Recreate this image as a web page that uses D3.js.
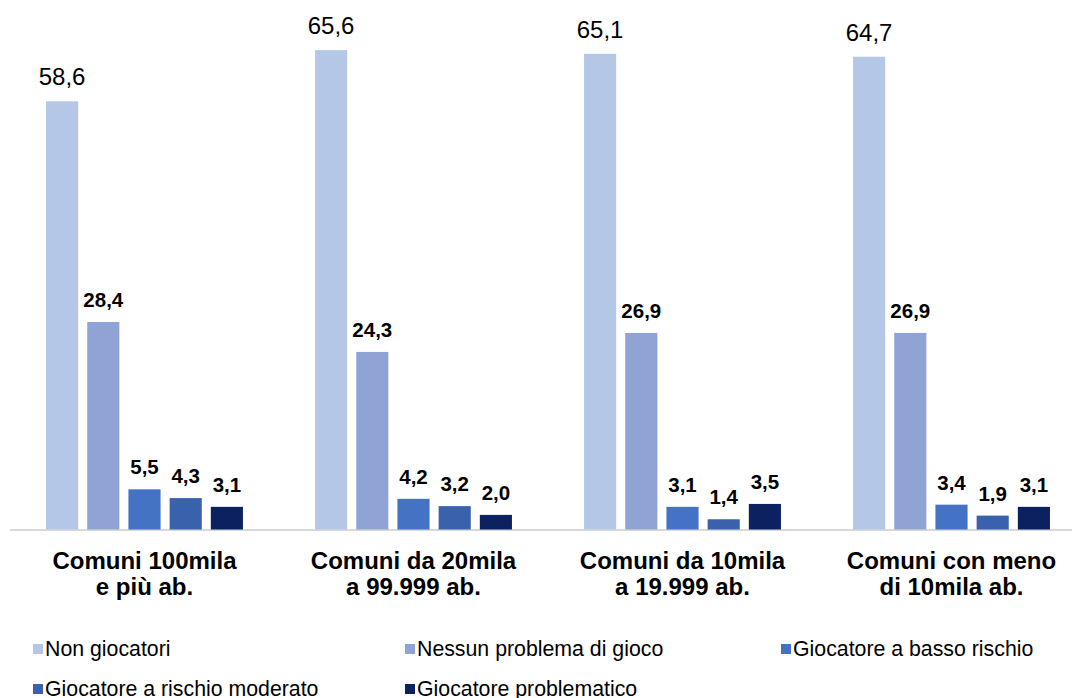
<!DOCTYPE html>
<html>
<head>
<meta charset="utf-8">
<script src="https://cdn.jsdelivr.net/npm/d3@7"></script>
<style>
  html, body { margin: 0; padding: 0; background: #fff; }
  svg { display: block; font-family: "Liberation Sans", Arial, sans-serif; }
</style>
</head>
<body>
<svg id="chart" width="1072" height="698"></svg>
<script>
// Municipality size classes (two-line labels)
const categories = [
  ["Comuni 100mila", "e più ab."],
  ["Comuni da 20mila", "a 99.999 ab."],
  ["Comuni da 10mila", "a 19.999 ab."],
  ["Comuni con meno", "di 10mila ab."]
];
const seriesNames = [
  "Non giocatori",
  "Nessun problema di gioco",
  "Giocatore a basso rischio",
  "Giocatore a rischio moderato",
  "Giocatore problematico"
];
// Percentages per series, one value per municipality class
const nonGiocatori = [58.6, 65.6, 65.1, 64.7];
const nessunProblema = [28.4, 24.3, 26.9, 26.9];
const bassoRischio = [5.5, 4.2, 3.1, 3.4];
const rischioModerato = [4.3, 3.2, 1.4, 1.9];
const problematico = [3.1, 2.0, 3.5, 3.1];
const seriesValues = [nonGiocatori, nessunProblema, bassoRischio, rischioModerato, problematico];
const colors = ["#B4C7E7", "#8FA4D4", "#4472C4", "#3A62AC", "#0B2160"];

const svg = d3.select("#chart");
const fmt = v => v.toFixed(1).replace(".", ",");

const x0 = d3.scaleBand().domain(d3.range(categories.length)).range([10, 1086]);
const x1 = d3.scaleBand().domain(d3.range(seriesNames.length))
  .range([0, x0.bandwidth()]).paddingInner(0.22).paddingOuter(0.875);
const y = d3.scaleLinear().domain([0, 70]).range([529.5, 18]);

// baseline
svg.append("line")
  .attr("x1", 10).attr("x2", 1072)
  .attr("y1", 530).attr("y2", 530)
  .attr("stroke", "#D9D9D9").attr("stroke-width", 2);

const groups = svg.selectAll("g.grp")
  .data(categories)
  .join("g")
  .attr("class", "grp")
  .attr("transform", (d, i) => `translate(${x0(i)},0)`);

groups.each(function (cat, ci) {
  const g = d3.select(this);
  seriesValues.forEach((vals, si) => {
    const v = vals[ci];
    g.append("rect")
      .attr("x", x1(si))
      .attr("width", x1.bandwidth())
      .attr("y", y(v))
      .attr("height", y(0) - y(v))
      .attr("fill", colors[si]);
    g.append("text")
      .attr("x", x1(si) + x1.bandwidth() / 2)
      .attr("y", y(v) - (si === 0 ? 16 : 15))
      .attr("text-anchor", "middle")
      .attr("font-size", si === 0 ? 24 : 20.5)
      .attr("font-weight", si === 0 ? "normal" : "bold")
      .attr("fill", "#000")
      .text(fmt(v));
  });
  const t = g.append("text")
    .attr("text-anchor", "middle")
    .attr("font-size", 24)
    .attr("font-weight", "bold")
    .attr("fill", "#000");
  cat.forEach((line, li) => {
    t.append("tspan")
      .attr("x", x0.bandwidth() / 2)
      .attr("y", 569 + li * 26)
      .text(line);
  });
});

// legend
const legendPos = [[33, 649], [405, 649], [781, 649], [33, 689], [405, 689]];
const legend = svg.selectAll("g.leg")
  .data(seriesNames)
  .join("g")
  .attr("class", "leg")
  .attr("transform", (d, i) => `translate(${legendPos[i][0]},${legendPos[i][1]})`);
legend.append("rect")
  .attr("x", 0).attr("y", -5)
  .attr("width", 10).attr("height", 10)
  .attr("fill", (d, i) => colors[i]);
legend.append("text")
  .attr("x", 12)
  .attr("y", 7)
  .attr("font-size", 21.3)
  .attr("fill", "#000")
  .text(d => d);
</script>
</body>
</html>
